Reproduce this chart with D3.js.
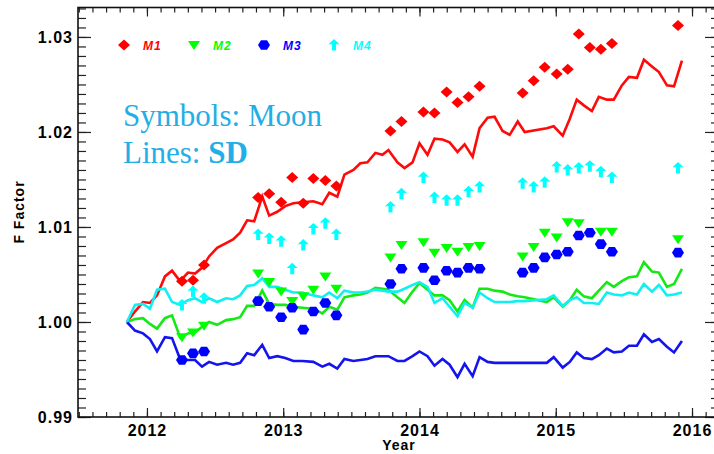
<!DOCTYPE html>
<html>
<head>
<meta charset="utf-8">
<script src="https://cdn.jsdelivr.net/npm/d3@7"></script>
<style>
body { margin: 0; background: #fff; }
svg { display: block; font-family: "Liberation Sans", Arial, sans-serif; }
</style>
</head>
<body>
<script>
// SD trend lines (shared dates)
var lineYears = [2011.853, 2011.912, 2011.971, 2012.022, 2012.074, 2012.132, 2012.184, 2012.243, 2012.301, 2012.353,
  2012.404, 2012.456, 2012.515, 2012.581, 2012.632, 2012.684, 2012.735, 2012.787, 2012.846, 2012.897,
  2012.956, 2013.015, 2013.074, 2013.140, 2013.221, 2013.287, 2013.338, 2013.397, 2013.449, 2013.515,
  2013.566, 2013.618, 2013.676, 2013.728, 2013.772, 2013.838, 2013.890, 2013.949, 2014.000, 2014.059,
  2014.110, 2014.169, 2014.221, 2014.279, 2014.331, 2014.390, 2014.441, 2014.500, 2014.551, 2014.610,
  2014.662, 2014.721, 2014.772, 2014.934, 2014.985, 2015.051, 2015.103, 2015.154, 2015.206, 2015.265,
  2015.316, 2015.375, 2015.426, 2015.485, 2015.537, 2015.596, 2015.647, 2015.706, 2015.757, 2015.816,
  2015.868, 2015.926];

var sdM1 = [1.0000, 1.0011, 1.0021, 1.0020, 1.0028, 1.0048, 1.0054, 1.0043, 1.0052, 1.0051,
  1.0057, 1.0069, 1.0078, 1.0083, 1.0087, 1.0094, 1.0107, 1.0106, 1.0132, 1.0112,
  1.0116, 1.0122, 1.0125, 1.0126, 1.0127, 1.0124, 1.0136, 1.0132, 1.0155, 1.0160,
  1.0167, 1.0168, 1.0178, 1.0176, 1.0181, 1.0168, 1.0162, 1.0168, 1.0188, 1.0176,
  1.0193, 1.0192, 1.0189, 1.0179, 1.0187, 1.0174, 1.0204, 1.0215, 1.0216, 1.0201,
  1.0197, 1.0211, 1.0200, 1.0204, 1.0206, 1.0196, 1.0214, 1.0234, 1.0228, 1.0222,
  1.0237, 1.0234, 1.0234, 1.0249, 1.0258, 1.0257, 1.0276, 1.0269, 1.0263, 1.0249,
  1.0248, 1.0275];

var sdM2 = [1.0000, 1.0003, 1.0004, 0.9998, 0.9993, 1.0004, 1.0007, 0.9984, 0.9988, 0.9989,
  0.9995, 1.0000, 0.9997, 1.0002, 1.0003, 1.0005, 1.0017, 1.0017, 1.0033, 1.0019,
  1.0018, 1.0018, 1.0016, 1.0015, 1.0014, 1.0009, 1.0016, 1.0013, 1.0026, 1.0028,
  1.0029, 1.0031, 1.0036, 1.0035, 1.0034, 1.0026, 1.0020, 1.0032, 1.0041, 1.0034,
  1.0028, 1.0028, 1.0023, 1.0011, 1.0023, 1.0015, 1.0035, 1.0035, 1.0033, 1.0032,
  1.0029, 1.0027, 1.0026, 1.0021, 1.0026, 1.0016, 1.0023, 1.0034, 1.0027, 1.0025,
  1.0033, 1.0042, 1.0037, 1.0043, 1.0047, 1.0048, 1.0063, 1.0053, 1.0052, 1.0037,
  1.0040, 1.0056];

var sdM3 = [1.0000, 0.9991, 0.9988, 0.9982, 0.9969, 0.9984, 0.9983, 0.9961, 0.9960, 0.9960,
  0.9953, 0.9958, 0.9955, 0.9957, 0.9955, 0.9957, 0.9967, 0.9965, 0.9976, 0.9962,
  0.9964, 0.9962, 0.9959, 0.9959, 0.9958, 0.9953, 0.9956, 0.9951, 0.9961, 0.9959,
  0.9960, 0.9961, 0.9964, 0.9964, 0.9964, 0.9959, 0.9959, 0.9964, 0.9969, 0.9964,
  0.9954, 0.9961, 0.9955, 0.9942, 0.9956, 0.9943, 0.9963, 0.9958, 0.9957, 0.9957,
  0.9957, 0.9957, 0.9957, 0.9957, 0.9963, 0.9952, 0.9958, 0.9968, 0.9962, 0.9961,
  0.9965, 0.9972, 0.9968, 0.9969, 0.9975, 0.9975, 0.9987, 0.9979, 0.9982, 0.9974,
  0.9968, 0.9980];

var sdM4 = [1.0000, 1.0018, 1.0019, 1.0014, 1.0034, 1.0035, 1.0021, 1.0018, 1.0023, 1.0025,
  1.0021, 1.0025, 1.0021, 1.0025, 1.0024, 1.0028, 1.0038, 1.0039, 1.0046, 1.0037,
  1.0037, 1.0034, 1.0031, 1.0031, 1.0028, 1.0026, 1.0031, 1.0025, 1.0033, 1.0031,
  1.0031, 1.0032, 1.0034, 1.0033, 1.0032, 1.0032, 1.0035, 1.0039, 1.0042, 1.0037,
  1.0020, 1.0025, 1.0016, 1.0006, 1.0020, 1.0015, 1.0031, 1.0025, 1.0021, 1.0021,
  1.0021, 1.0022, 1.0022, 1.0024, 1.0028, 1.0017, 1.0023, 1.0026, 1.0020, 1.0020,
  1.0019, 1.0031, 1.0029, 1.0028, 1.0031, 1.0029, 1.0040, 1.0032, 1.0039, 1.0028,
  1.0029, 1.0031];

// Moon symbols (monthly)
var moonYears = [2012.257, 2012.338, 2012.419, 2012.816, 2012.897, 2012.985, 2013.066, 2013.147, 2013.221, 2013.309,
  2013.390, 2013.787, 2013.868, 2014.029, 2014.110, 2014.199, 2014.279, 2014.360, 2014.441, 2014.757,
  2014.838, 2014.919, 2015.007, 2015.088, 2015.169, 2015.250, 2015.331, 2015.412, 2015.897];

var moonM1 = [1.0043, 1.0044, 1.0060, 1.0131, 1.0135, 1.0126, 1.0152, 1.0125, 1.0151, 1.0149,
  1.0143, 1.0201, 1.0211, 1.0221, 1.0220, 1.0242, 1.0231, 1.0237, 1.0248, 1.0241,
  1.0254, 1.0268, 1.0261, 1.0266, 1.0303, 1.0289, 1.0287, 1.0293, 1.0312];

var moonM2 = [0.9984, 0.9989, 0.9996, 1.0051, 1.0042, 1.0032, 1.0022, 1.0027, 1.0034, 1.0048,
  1.0035, 1.0068, 1.0081, 1.0084, 1.0073, 1.0078, 1.0074, 1.0079, 1.0080, 1.0069,
  1.0079, 1.0094, 1.0089, 1.0105, 1.0104, null, 1.0095, 1.0095, 1.0087];

var moonM3 = [0.9960, 0.9967, 0.9969, 1.0022, 1.0016, 1.0005, 1.0015, 0.9992, 1.0011, 1.0020,
  1.0007, 1.0040, 1.0056, 1.0057, 1.0044, 1.0054, 1.0052, 1.0057, 1.0056, 1.0052,
  1.0057, 1.0068, 1.0071, 1.0074, 1.0091, 1.0094, 1.0082, 1.0074, 1.0073];

var moonM4 = [1.0018, 1.0032, 1.0025, 1.0092, 1.0088, 1.0085, 1.0056, 1.0081, 1.0098, 1.0104,
  1.0092, 1.0121, 1.0135, 1.0152, 1.0131, 1.0128, 1.0128, 1.0137, 1.0142, 1.0146,
  1.0142, 1.0147, 1.0163, 1.0160, 1.0162, 1.0164, 1.0158, 1.0152, 1.0162];

var seriesNames = ["M1", "M2", "M3", "M4"];
var xTicks = [2012, 2013, 2014, 2015, 2016];
var yTicks = [0.99, 1.00, 1.01, 1.02, 1.03];

var colors = ["#ff0000", "#00ff00", "#0000ff", "#00ffff"];
var lineColors = ["#ff0a0a", "#16e816", "#1414ee", "#10f0f0"];

// marker shapes, centred on the point
var shapes = [
  "M0,-5.5L6,0L0,5.5L-6,0Z",                          // diamond
  "M-6,-4L6,-4L0,5Z",                                 // triangle down
  "M-6,0L-3,-4.8L3,-4.8L6,0L3,4.8L-3,4.8Z",           // hexagon
  "M0,-6L5.5,-0.8L2,-0.8L2,5.5L-2,5.5L-2,-0.8L-5.5,-0.8Z" // arrow up
];

var svg = d3.select("body").append("svg")
    .attr("width", 714)
    .attr("height", 454);

var x = d3.scaleLinear().domain([2011.494, 2016.176]).range([78, 716]);
var y = d3.scaleLinear().domain([0.99, 1.0331]).range([417, 7.5]);

var xMinor = d3.range(0, 47).map(function(i) { return Math.round((2011.5 + i * 0.1) * 10) / 10; })
    .filter(function(v) { return v <= 2016.17; });
var yMinor = d3.range(0, 44).map(function(i) { return Math.round((0.99 + i * 0.001) * 1000) / 1000; });

function clean(g) {
  g.select(".domain").remove();
  g.selectAll(".tick line").attr("stroke", "#222").attr("stroke-width", 1.2);
}

// bottom
svg.append("g").attr("transform", "translate(0,417)")
    .call(d3.axisBottom(x).tickValues(xMinor).tickSize(-5).tickFormat("")).call(clean);
svg.append("g").attr("transform", "translate(0,417)")
    .call(d3.axisBottom(x).tickValues(xTicks).tickSize(-9).tickPadding(8).tickFormat(d3.format("d")))
    .call(clean)
    .selectAll("text")
    .attr("fill", "#000")
    .style("font-size", "16px").style("font-weight", "bold").style("letter-spacing", "1px");
// top
svg.append("g").attr("transform", "translate(0,7.5)")
    .call(d3.axisTop(x).tickValues(xMinor).tickSize(-5).tickFormat("")).call(clean);
svg.append("g").attr("transform", "translate(0,7.5)")
    .call(d3.axisTop(x).tickValues(xTicks).tickSize(-9).tickFormat("")).call(clean);
// left
svg.append("g").attr("transform", "translate(78,0)")
    .call(d3.axisLeft(y).tickValues(yMinor).tickSize(-8).tickFormat("")).call(clean);
svg.append("g").attr("transform", "translate(78,0)")
    .call(d3.axisLeft(y).tickValues(yTicks).tickSize(-13).tickPadding(5).tickFormat(d3.format(".2f")))
    .call(clean)
    .selectAll("text")
    .attr("fill", "#000")
    .style("font-size", "16px").style("font-weight", "bold").style("letter-spacing", "1px");
// right
svg.append("g").attr("transform", "translate(716,0)")
    .call(d3.axisRight(y).tickValues(yMinor).tickSize(-5).tickFormat("")).call(clean);
svg.append("g").attr("transform", "translate(716,0)")
    .call(d3.axisRight(y).tickValues(yTicks).tickSize(-11).tickFormat("")).call(clean);

// frame
svg.append("rect")
    .attr("x", 78).attr("y", 7.5)
    .attr("width", 638).attr("height", 409.5)
    .attr("fill", "none").attr("stroke", "#111").attr("stroke-width", 1.6);

// axis titles
svg.append("text")
    .attr("x", 399).attr("y", 450)
    .attr("text-anchor", "middle")
    .style("font-size", "14px").style("font-weight", "bold").style("letter-spacing", "1px")
    .text("Year");
svg.append("text")
    .attr("transform", "translate(24,212) rotate(-90)")
    .attr("text-anchor", "middle")
    .style("font-size", "14px").style("font-weight", "bold").style("letter-spacing", "1px")
    .text("F Factor");

// SD lines
var sdSeries = [sdM1, sdM2, sdM3, sdM4];
var line = d3.line()
    .x(function(d) { return x(d.t); })
    .y(function(d) { return y(d.v); });

sdSeries.forEach(function(vals, k) {
  var pts = lineYears.map(function(t, i) { return {t: t, v: vals[i]}; });
  svg.append("path")
      .datum(pts)
      .attr("fill", "none")
      .attr("stroke", lineColors[k])
      .attr("stroke-width", 2.6)
      .attr("stroke-linejoin", "miter")
      .attr("d", line);
});

// Moon symbols
var moonSeries = [moonM1, moonM2, moonM3, moonM4];
moonSeries.forEach(function(vals, k) {
  var pts = moonYears.map(function(t, i) { return {t: t, v: vals[i]}; })
      .filter(function(d) { return d.v != null; });
  svg.selectAll(".m" + k)
      .data(pts)
      .enter().append("path")
      .attr("class", "m" + k)
      .attr("d", shapes[k])
      .attr("fill", colors[k])
      .attr("transform", function(d) { return "translate(" + x(d.t) + "," + y(d.v) + ")"; });
});

// legend
var leg = svg.append("g").attr("transform", "translate(124,45)");
seriesNames.forEach(function(name, k) {
  var g = leg.append("g").attr("transform", "translate(" + (k * 70) + ",0)");
  g.append("path").attr("d", shapes[k]).attr("fill", colors[k]);
  g.append("text")
      .attr("x", 19).attr("y", 5)
      .attr("fill", colors[k])
      .style("font-size", "12px").style("font-weight", "bold").style("font-style", "italic")
      .style("letter-spacing", "1px")
      .text(name);
});

// annotation
var note = svg.append("g")
    .style("font-family", "'Liberation Serif', 'Times New Roman', serif")
    .style("font-size", "31px")
    .attr("fill", "#22aee6");
note.append("text").attr("x", 123).attr("y", 126).text("Symbols: Moon");
var t2 = note.append("text").attr("x", 123).attr("y", 163);
t2.append("tspan").text("Lines: ");
t2.append("tspan").style("font-weight", "bold").text("SD");
</script>
</body>
</html>
